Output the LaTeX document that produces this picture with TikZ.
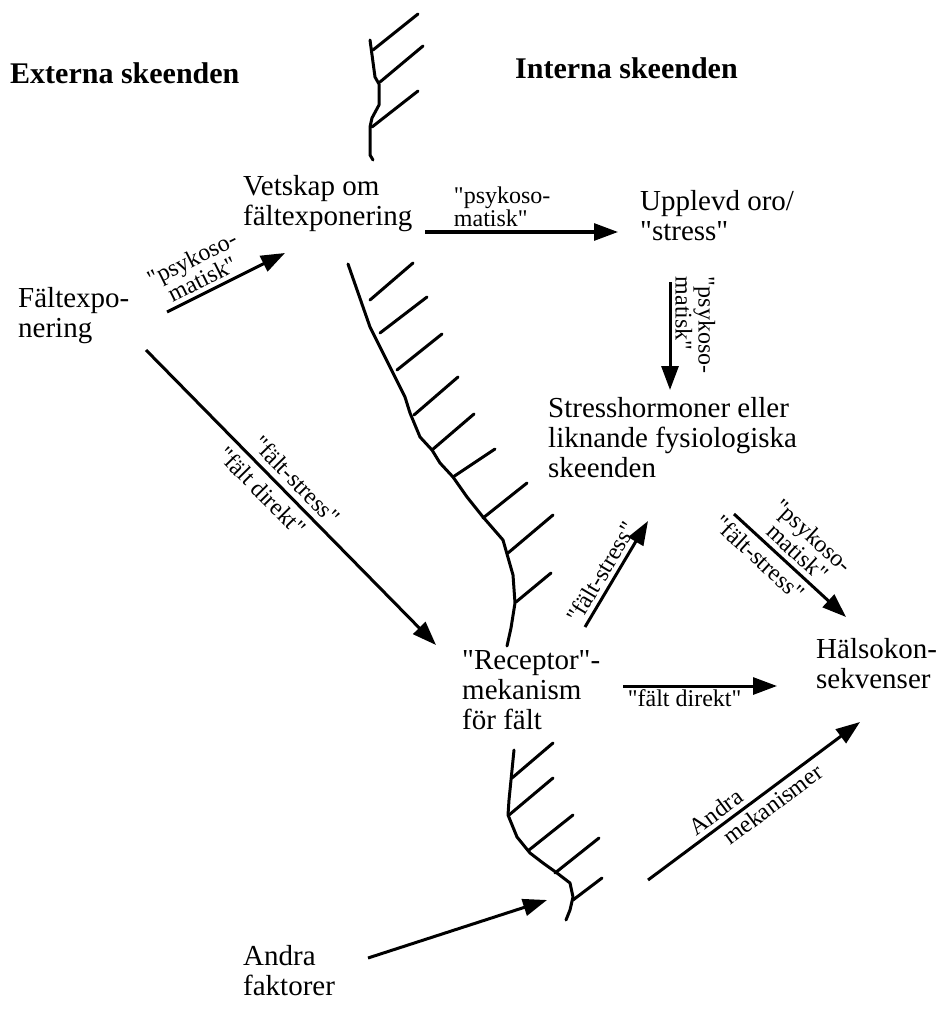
\documentclass[tikz,border=0pt]{standalone}
\usepackage{fontspec}
\setmainfont{Liberation Serif}[Ligatures=TeXOff]
\usetikzlibrary{arrows.meta}
\begin{document}
\begin{tikzpicture}[
  x=1pt, y=-1pt,
  txt/.style={anchor=north west, inner sep=0pt, align=left, font=\fontsize{29}{30}\selectfont},
  head/.style={anchor=north west, inner sep=0pt, font=\fontsize{30}{30}\selectfont\bfseries},
  lbl/.style={inner sep=4pt, align=center, font=\fontsize{24}{20}\selectfont},
  arrow/.style={-{Triangle[length=24pt,width=17pt]}, line width=3pt},
  wall/.style={line width=3pt, line cap=round, line join=round}
]
\useasboundingbox (0,0) rectangle (946,1032);
\node[head] (ext)   at (10,62)   {Externa skeenden};
\node[head] (int)   at (515,57)  {Interna skeenden};
\node[txt]  (falt)  at (18,287)  {Fältexpo-\\nering};
\node[txt]  (vet)   at (243,175) {Vetskap om\\fältexponering};
\node[txt]  (oro)   at (640,190) {Upplevd oro/\\"stress"};
\node[txt]  (horm)  at (548,397) {Stresshormoner eller\\liknande fysiologiska\\skeenden};
\node[txt]  (rec)   at (462,650) {"Receptor"-\\mekanism\\för fält};
\node[txt]  (hals)  at (816,638) {Hälsokon-\\sekvenser};
\node[txt]  (andra) at (243,945) {Andra\\faktorer};
\coordinate (p1s) at (167,312);  \coordinate (p1e) at (285,253);
\coordinate (p2s) at (425,232);  \coordinate (p2e) at (618,232);
\coordinate (p3s) at (670,282);  \coordinate (p3e) at (670,390);
\coordinate (f1s) at (146,350);  \coordinate (f1e) at (436,645);
\coordinate (f2s) at (585,627);  \coordinate (f2e) at (648,521);
\coordinate (f3s) at (623,686);  \coordinate (f3e) at (777,686);
\coordinate (h1s) at (734,514);  \coordinate (h1e) at (846,617);
\coordinate (m1s) at (648,880);  \coordinate (m1e) at (860,722);
\coordinate (o1s) at (368,958);  \coordinate (o1e) at (547,900);
\draw[arrow] (p1s) -- node[lbl, sloped, above, pos=0.35] {"psykoso-\\matisk"} (p1e);
\draw[arrow] (p2s) -- node[lbl, align=left, above, pos=0.4] {"psykoso-\\matisk"} (p2e);
\draw[arrow] (p3s) -- node[lbl, align=left, sloped, above, pos=0.4] {"psykoso-\\matisk"} (p3e);
\draw[arrow] (f1s) -- node[lbl, sloped, above, pos=0.48, inner sep=6pt] {"fält-stress"} node[lbl, sloped, below, pos=0.44, inner sep=6pt] {"fält direkt"} (f1e);
\draw[arrow] (f2s) -- node[lbl, sloped, above, pos=0.45] {"fält-stress"} (f2e);
\draw[arrow] (f3s) -- node[lbl, below, pos=0.4, inner sep=2pt] {"fält direkt"} (f3e);
\draw[arrow] (h1s) -- node[lbl, sloped, above, pos=0.48, inner sep=5pt] {"psykoso-\\matisk"} node[lbl, sloped, below, pos=0.32, inner sep=5pt] {"fält-stress"} (h1e);
\draw[arrow] (m1s) -- node[lbl, sloped, above, pos=0.36] {Andra} node[lbl, sloped, below, pos=0.55] {mekanismer} (m1e);
\draw[arrow] (o1s) -- (o1e);
\draw[wall] (370,40) -- (375,77) -- (379,84) -- (379,105) -- (372,118) -- (370,127) -- (370,155) -- (373,160);
\draw[wall] (373,50) -- (418,14);
\draw[wall] (380,82) -- (423,46);
\draw[wall] (372,127) -- (418,91);
\draw[wall] (348,264) -- (370,327) -- (393,373) -- (405,397) -- (410,413) -- (420,437) -- (432,450) -- (440,463)
  -- (453,477) -- (467,497) -- (483,517) -- (503,540) -- (513,575) -- (515,603) -- (511,628) -- (507,646);
\draw[wall] (370,300) -- (413,263);
\draw[wall] (380,333) -- (427,297);
\draw[wall] (397,370) -- (442,334);
\draw[wall] (414,415) -- (458,377);
\draw[wall] (432,450) -- (474,414);
\draw[wall] (453,477) -- (495,449);
\draw[wall] (483,518) -- (527,483);
\draw[wall] (508,553) -- (553,515);
\draw[wall] (516,602) -- (551,573);
\draw[wall] (514,750) -- (511,780) -- (509,800) -- (508,815) -- (517,837) -- (530,853) -- (543,863) -- (557,873)
  -- (570,883) -- (573,897) -- (570,910) -- (566,920);
\draw[wall] (512,778) -- (553,743);
\draw[wall] (509,815) -- (553,778);
\draw[wall] (529,850) -- (573,815);
\draw[wall] (555,873) -- (599,838);
\draw[wall] (573,900) -- (602,878);
\end{tikzpicture}
\end{document}
